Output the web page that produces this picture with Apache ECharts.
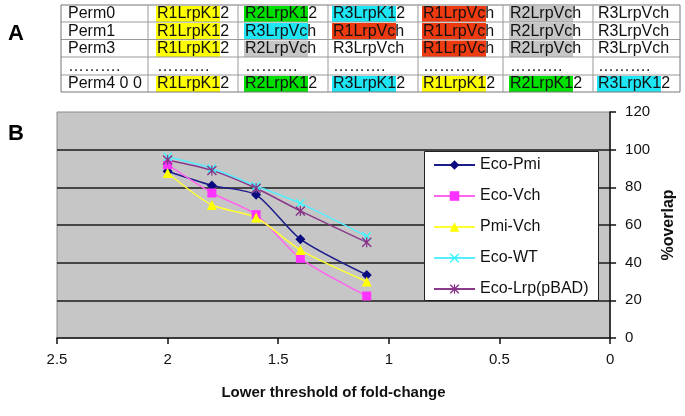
<!DOCTYPE html>
<html><head><meta charset="utf-8">
<script src="https://cdn.jsdelivr.net/npm/echarts@6/dist/echarts.min.js"></script>
<style>html,body{margin:0;padding:0;background:#fff}#c{width:685px;height:416px}</style>
</head><body><div id="c"></div>
<script>
// ---------- data ----------
const thresholds = [2, 1.8, 1.6, 1.4, 1.1];
const seriesNames = ['Eco-Pmi', 'Eco-Vch', 'Pmi-Vch', 'Eco-WT', 'Eco-Lrp(pBAD)'];
const ecoPmi = [88.5, 81, 76, 52.5, 33.5];
const ecoVch = [92, 77, 65.5, 42.3, 22.3];
const pmiVch = [87.6, 70.6, 64, 46.7, 30];
const ecoWT  = [96.2, 90, 80.7, 71.5, 54];
const ecoLrp = [94.5, 89, 79.5, 67.5, 50.8];
const xTickLabels = ['0', '0.5', '1', '1.5', '2', '2.5'];
const yTickLabels = ['0', '20', '40', '60', '80', '100', '120'];

const permNames = ['Perm0', 'Perm1', 'Perm3', '……….', 'Perm4 0 0'];
const permCells = [
  ['R1LrpK12', 'R2LrpK12', 'R3LrpK12', 'R1LrpVch', 'R2LrpVch', 'R3LrpVch'],
  ['R1LrpK12', 'R3LrpVch', 'R1LrpVch', 'R1LrpVch', 'R2LrpVch', 'R3LrpVch'],
  ['R1LrpK12', 'R2LrpVch', 'R3LrpVch', 'R1LrpVch', 'R2LrpVch', 'R3LrpVch'],
  ['……….', '……….', '……….', '……….', '……….', '……….'],
  ['R1LrpK12', 'R2LrpK12', 'R3LrpK12', 'R1LrpK12', 'R2LrpK12', 'R3LrpK12']
];
const permMarks = [
  ['y', 'g', 'c', 'r', 's', ''],
  ['y', 'c', 'r', 'r', 's', ''],
  ['y', 's', '', 'r', 's', ''],
  ['', '', '', '', '', ''],
  ['y', 'g', 'c', 'y', 'g', 'c']
];

// ---------- layout / style ----------
const FONT = '"Liberation Sans", Arial, sans-serif';
const markColors = { y: '#ffff00', g: '#00e000', c: '#1ee6f5', r: '#ee3a10', s: '#c6c6c6' };
const colX = [61, 148, 238, 328, 418, 503, 593, 680];
const textX = [68, 157, 245, 333, 423, 510, 598];
const rowY = [5, 22, 39.5, 57, 75, 92];

const g = [];
// highlights
permMarks.forEach((row, r) => row.forEach((m, c) => {
  if (!m) return;
  const x0 = textX[c + 1] - 1;
  g.push({ type: 'rect', silent: true, shape: { x: x0, y: rowY[r] + 1, width: 64, height: rowY[r + 1] - rowY[r] - 1 },
    style: { fill: markColors[m] } });
}));
// grid lines of table
rowY.forEach((y, i) => g.push({ type: 'line', silent: true,
  shape: { x1: colX[0], y1: y, x2: colX[colX.length - 1], y2: y },
  style: { stroke: (i === 0 || i === rowY.length - 1) ? '#777' : '#999', lineWidth: 1 } }));
colX.forEach((x, i) => g.push({ type: 'line', silent: true,
  shape: { x1: x, y1: rowY[0], x2: x, y2: rowY[rowY.length - 1] },
  style: { stroke: (i === 0 || i === colX.length - 1) ? '#777' : '#999', lineWidth: 1 } }));
// texts
permNames.forEach((name, r) => {
  const yc = (rowY[r] + rowY[r + 1]) / 2 + 0.5;
  g.push({ type: 'text', silent: true, style: { text: name, x: textX[0], y: yc, font: '16px ' + FONT, fill: '#111', align: 'left', verticalAlign: 'middle' } });
  permCells[r].forEach((t, c) => g.push({ type: 'text', silent: true,
    style: { text: t, x: textX[c + 1], y: yc, font: '16px ' + FONT, fill: '#111', align: 'left', verticalAlign: 'middle' } }));
});
// panel letters
g.push({ type: 'text', silent: true, style: { text: 'A', x: 16, y: 34, font: 'bold 22px ' + FONT, fill: '#000', align: 'center', verticalAlign: 'middle' } });
g.push({ type: 'text', silent: true, style: { text: 'B', x: 16, y: 134, font: 'bold 22px ' + FONT, fill: '#000', align: 'center', verticalAlign: 'middle' } });
// legend box
g.push({ type: 'rect', z: 6, silent: true, shape: { x: 424.5, y: 151.5, width: 174, height: 149 }, style: { fill: '#fff', stroke: '#222', lineWidth: 1 } });

const X_PATH = 'path://M0,1L1,0L5,4L9,0L10,1L6,5L10,9L9,10L5,6L1,10L0,9L4,5Z';
const STAR_PATH = 'path://M0,1L1,0L5,4L9,0L10,1L6,5L10,9L9,10L5,6L1,10L0,9L4,5ZM4.4,0L5.6,0L5.6,10L4.4,10Z';

function mk(name, vals, color, lineColor, symbol, size) {
  return {
    name, type: 'line', smooth: 0.25, data: thresholds.map((t, i) => [t, vals[i]]),
    symbol, symbolSize: size, showSymbol: true,
    itemStyle: { color, borderWidth: 0 },
    lineStyle: { color: lineColor, width: 1.5 },
    emphasis: { disabled: true }, z: 3
  };
}

const chart = echarts.init(document.getElementById('c'), null, { renderer: 'canvas' });
chart.setOption({
  animation: false,
  backgroundColor: '#fff',
  textStyle: { fontFamily: FONT },
  graphic: { elements: g },
  grid: { left: 57, right: 72, top: 112, bottom: 78, show: true, backgroundColor: '#c6c6c6', borderColor: '#8a8a8a', borderWidth: 1 },
  legend: {
    orient: 'vertical', left: 428, top: 152, itemWidth: 41, itemHeight: 12, itemGap: 15, z: 10,
    textStyle: { fontSize: 16, color: '#111', fontFamily: FONT },
    data: seriesNames
  },
  xAxis: {
    type: 'value', min: 0, max: 2.5, interval: 0.5, inverse: true,
    axisLine: { show: true, onZero: false, lineStyle: { color: '#111', width: 1.5 } },
    axisTick: { show: true, length: 6, lineStyle: { color: '#111', width: 1.5 } },
    axisLabel: { fontSize: 15, color: '#111', margin: 14, formatter: v => xTickLabels[Math.round(v * 2)] },
    splitLine: { show: false },
    name: 'Lower threshold of fold-change', nameLocation: 'middle', nameGap: 47,
    nameTextStyle: { fontSize: 15, fontWeight: 'bold', color: '#111' }
  },
  yAxis: {
    type: 'value', position: 'right', min: 0, max: 120, interval: 20,
    axisLine: { show: true, lineStyle: { color: '#111', width: 1.5 } },
    axisTick: { show: true, length: 6, lineStyle: { color: '#111', width: 1.5 } },
    axisLabel: { fontSize: 15, color: '#111', margin: 15, formatter: v => yTickLabels[Math.round(v / 20)] },
    splitLine: { show: true, showMinLine: false, showMaxLine: false, lineStyle: { color: '#1a1a1a', width: 1.5 } },
    name: '%overlap', nameLocation: 'middle', nameGap: 47, nameRotate: 90,
    nameTextStyle: { fontSize: 16, fontWeight: 'bold', color: '#111' }
  },
  series: [
    mk('Eco-Pmi', ecoPmi, '#0a0a80', '#1c1c8a', 'diamond', 10),
    mk('Eco-Vch', ecoVch, '#ff33ff', '#ff66ee', 'rect', 9),
    mk('Pmi-Vch', pmiVch, '#ffff00', '#ffff33', 'triangle', 10),
    mk('Eco-WT', ecoWT, '#33ffff', '#55eeff', X_PATH, 9),
    mk('Eco-Lrp(pBAD)', ecoLrp, '#883388', '#8a3a8a', STAR_PATH, 10)
  ]
});
</script></body></html>
